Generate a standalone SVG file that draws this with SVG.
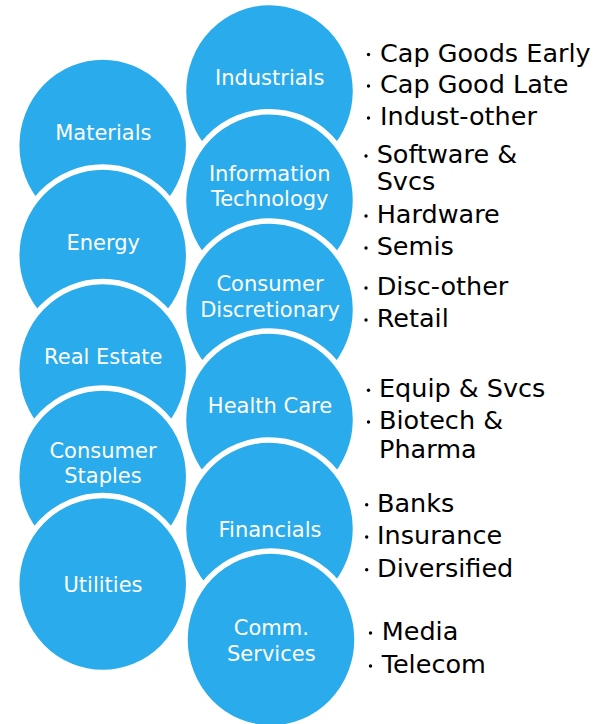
<svg xmlns="http://www.w3.org/2000/svg" width="607" height="724" viewBox="0 0 607 724">
<style>
.c{fill:#29ABEC;stroke:#FFFFFF;stroke-width:5.5}
.t{font-family:"DejaVu Sans","Liberation Sans",sans-serif;font-size:21px;fill:#FFFFFF;text-anchor:middle}
.l{font-family:"DejaVu Sans","Liberation Sans",sans-serif;font-size:25.5px;fill:#000000}
.b{fill:#000000}
</style>
<rect width="607" height="724" fill="#FFFFFF"/>
<g id="industrials"><ellipse class="c" cx="269.5" cy="91" rx="86" ry="88.5"/><text class="t" x="269.7" y="85">Industrials</text></g>
<g id="materials"><ellipse class="c" cx="102.7" cy="145.5" rx="86" ry="88.5"/><text class="t" x="103.3" y="140">Materials</text></g>
<g id="information-technology"><ellipse class="c" cx="269.5" cy="200.2" rx="86" ry="88.5"/><text class="t" x="269.7" y="181">Information</text><text class="t" x="269.7" y="206">Technology</text></g>
<g id="energy"><ellipse class="c" cx="102.7" cy="255.5" rx="86" ry="88.5"/><text class="t" x="103.3" y="250">Energy</text></g>
<g id="consumer-discretionary"><ellipse class="c" cx="269.5" cy="309.5" rx="86" ry="88.5"/><text class="t" x="270" y="291">Consumer</text><text class="t" x="270" y="316.7">Discretionary</text></g>
<g id="real-estate"><ellipse class="c" cx="102.7" cy="370" rx="86" ry="88.5"/><text class="t" x="103.3" y="364">Real Estate</text></g>
<g id="health-care"><ellipse class="c" cx="269.5" cy="419.5" rx="86" ry="88.5"/><text class="t" x="270" y="412.7">Health Care</text></g>
<g id="consumer-staples"><ellipse class="c" cx="102.7" cy="476.5" rx="86" ry="88.5"/><text class="t" x="103" y="458.3">Consumer</text><text class="t" x="103" y="483.3">Staples</text></g>
<g id="financials"><ellipse class="c" cx="269.5" cy="528.5" rx="86" ry="88.5"/><text class="t" x="270" y="537.3">Financials</text></g>
<g id="utilities"><ellipse class="c" cx="102.7" cy="584" rx="86" ry="88.5"/><text class="t" x="103" y="591.7">Utilities</text></g>
<g id="comm-services"><ellipse class="c" cx="271" cy="639.5" rx="86" ry="88.5"/><text class="t" x="271.3" y="635">Comm.</text><text class="t" x="271.3" y="660.7">Services</text></g>
<g id="lists">
<circle class="b" cx="368.5" cy="54.5" r="1.7"/><text class="l" x="380" y="61.7">Cap Goods Early</text>
<circle class="b" cx="368.5" cy="86" r="1.7"/><text class="l" x="380" y="93">Cap Good Late</text>
<circle class="b" cx="368.5" cy="118" r="1.7"/><text class="l" x="380" y="125">Indust-other</text>
<circle class="b" cx="366" cy="156" r="1.7"/><text class="l" x="376.7" y="163">Software &amp;</text>
<text class="l" x="376.7" y="190">Svcs</text>
<circle class="b" cx="366" cy="216" r="1.7"/><text class="l" x="376.7" y="223">Hardware</text>
<circle class="b" cx="366" cy="248" r="1.7"/><text class="l" x="376.7" y="255">Semis</text>
<circle class="b" cx="366" cy="288" r="1.7"/><text class="l" x="376.7" y="295">Disc-other</text>
<circle class="b" cx="366" cy="320" r="1.7"/><text class="l" x="376.7" y="327">Retail</text>
<circle class="b" cx="368.5" cy="390.3" r="1.7"/><text class="l" x="379" y="397.3">Equip &amp; Svcs</text>
<circle class="b" cx="368.5" cy="422" r="1.7"/><text class="l" x="379" y="429">Biotech &amp;</text>
<text class="l" x="379" y="458">Pharma</text>
<circle class="b" cx="366.7" cy="504.7" r="1.7"/><text class="l" x="377" y="511.7">Banks</text>
<circle class="b" cx="366.7" cy="537" r="1.7"/><text class="l" x="377" y="544">Insurance</text>
<circle class="b" cx="366.7" cy="569.7" r="1.7"/><text class="l" x="377" y="576.7">Diversified</text>
<circle class="b" cx="370.5" cy="633" r="1.7"/><text class="l" x="381.7" y="640">Media</text>
<circle class="b" cx="370.5" cy="666" r="1.7"/><text class="l" x="381.7" y="673">Telecom</text>
</g>
</svg>
